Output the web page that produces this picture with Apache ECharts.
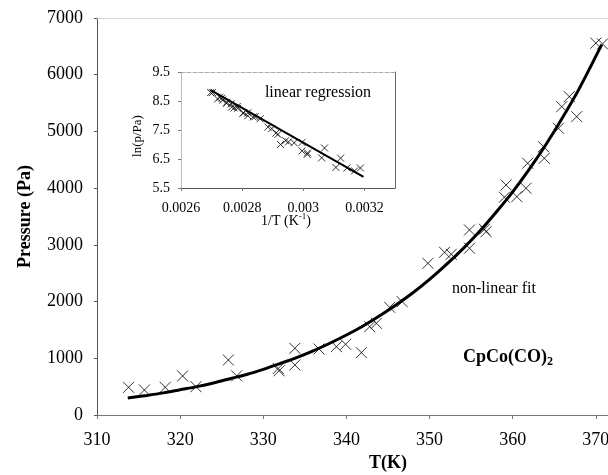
<!DOCTYPE html>
<html><head><meta charset="utf-8">
<script src="https://cdn.jsdelivr.net/npm/echarts@6/dist/echarts.min.js"></script>
<style>html,body{margin:0;padding:0;background:#fff}#c{width:608px;height:475px}</style>
</head><body><div id="c"></div>
<script>
// Main plot: measured vapour pressure (T in K, P in Pa)
const mainT = [313.8, 315.7, 318.2, 320.3, 321.9, 325.8, 326.8, 331.8, 331.9, 333.8, 333.8, 336.7, 338.8, 339.9, 341.8, 342.8, 343.6, 345.2, 346.7, 349.8, 351.8, 352.6, 354.8, 354.8, 356.6, 356.8, 359.2, 359.0, 360.5, 361.6, 361.8, 363.7, 363.8, 365.5, 365.9, 366.8, 367.7, 370.0, 370.8];
const mainP = [488, 441, 488, 688, 499, 970, 690, 820, 780, 1176, 882, 1164, 1205, 1247, 1099, 1557, 1617, 1899, 1999, 2675, 2869, 2834, 3263, 2940, 3275, 3233, 4056, 3840, 3850, 3998, 4439, 4732, 4527, 5056, 5437, 5614, 5261, 6556, 6543];
// Non-linear fit curve
const fitT = [313.7, 316, 318, 320, 322, 324, 326, 328, 330, 332, 334, 336, 338, 340, 342, 344, 346, 348, 350, 352, 354, 356, 358, 360, 362, 364, 366, 368, 370.7];
const fitP = [300, 345, 390, 445, 500, 565, 640, 715, 805, 905, 1010, 1130, 1265, 1410, 1570, 1750, 1945, 2155, 2390, 2650, 2930, 3235, 3575, 3935, 4335, 4770, 5245, 5755, 6530];
// Inset: ln(p/Pa) vs 1/T
const insetX = [0.0031867, 0.0031676, 0.0031427, 0.0031221, 0.0031066, 0.0030694, 0.0030600, 0.0030139, 0.0030130, 0.0029958, 0.0029958, 0.0029700, 0.0029516, 0.0029420, 0.0029257, 0.0029172, 0.0029104, 0.0028969, 0.0028844, 0.0028588, 0.0028425, 0.0028361, 0.0028185, 0.0028185, 0.0028043, 0.0028027, 0.0027840, 0.0027855, 0.0027739, 0.0027655, 0.0027640, 0.0027495, 0.0027488, 0.0027360, 0.0027330, 0.0027263, 0.0027196, 0.0027027, 0.0026969];
const insetY = [6.19, 6.09, 6.19, 6.53, 6.21, 6.88, 6.54, 6.71, 6.66, 7.07, 6.78, 7.06, 7.09, 7.13, 7.00, 7.35, 7.39, 7.55, 7.60, 7.89, 7.96, 7.95, 8.09, 7.99, 8.09, 8.08, 8.31, 8.25, 8.26, 8.29, 8.40, 8.46, 8.42, 8.53, 8.60, 8.63, 8.57, 8.79, 8.79];
const regX = [0.002696, 0.003197];
const regY = [8.88, 5.88];

const serif = 'Liberation Serif';
const X_SYMBOL = 'path://M0,0L10,10M10,0L0,10';
const zip = (a, b) => a.map((v, i) => [v, b[i]]);
const plain = v => String(v);
const chart = echarts.init(document.getElementById('c'), null, {renderer: 'canvas'});

const lbl = (size, extra) => Object.assign({color: '#000', fontFamily: serif, fontSize: size}, extra || {});

chart.setOption({
  animation: false,
  backgroundColor: '#fff',
  grid: [
    {left: 97, top: 18, width: 582, height: 397, containLabel: false, outerBoundsMode: 'none'},
    {left: 181, top: 72, width: 214, height: 116, containLabel: false, outerBoundsMode: 'none'}
  ],
  xAxis: [
    {gridIndex: 0, type: 'value', min: 310, max: 380, interval: 10,
     axisLine: {lineStyle: {color: '#777'}}, axisTick: {length: 4, lineStyle: {color: '#777'}},
     splitLine: {show: false}, axisLabel: lbl(18, {margin: 16, formatter: plain}),
     name: 'T(K)', nameLocation: 'middle', nameGap: 32,
     nameTextStyle: lbl(18, {fontWeight: 'bold'})},
    {gridIndex: 0, type: 'value', position: 'top', min: 310, max: 380,
     axisLine: {lineStyle: {color: '#ccc', type: 'dotted'}}, axisTick: {show: false},
     axisLabel: {show: false}, splitLine: {show: false}},
    {gridIndex: 1, type: 'value', min: 0.0026, max: 0.0033, interval: 0.0002,
     axisLine: {lineStyle: {color: '#555'}}, axisTick: {length: 3, lineStyle: {color: '#777'}},
     splitLine: {show: false}, axisLabel: lbl(14, {margin: 13, showMaxLabel: false})},
    {gridIndex: 1, type: 'value', position: 'top', min: 0.0026, max: 0.0033,
     axisLine: {lineStyle: {color: '#aaa', type: 'dashed'}}, axisTick: {show: false},
     axisLabel: {show: false}, splitLine: {show: false}}
  ],
  yAxis: [
    {gridIndex: 0, type: 'value', min: 0, max: 7000, interval: 1000,
     axisLine: {show: true, lineStyle: {color: '#555'}}, axisTick: {show: true, length: 3, lineStyle: {color: '#555'}},
     splitLine: {show: false}, axisLabel: lbl(18, {margin: 14, formatter: plain}),
     name: 'Pressure (Pa)', nameLocation: 'middle', nameGap: 63,
     nameTextStyle: lbl(18, {fontWeight: 'bold'})},
    {gridIndex: 1, type: 'value', min: 5.5, max: 9.5, interval: 1,
     axisLine: {show: true, lineStyle: {color: '#aaa', type: 'dotted'}}, axisTick: {show: true, length: 3, lineStyle: {color: '#777'}},
     splitLine: {show: false}, axisLabel: lbl(14, {margin: 11})},
    {gridIndex: 1, type: 'value', position: 'right', min: 5.5, max: 9.5,
     axisLine: {show: true, lineStyle: {color: '#666'}}, axisTick: {show: false},
     axisLabel: {show: false}, splitLine: {show: false}}
  ],
  graphic: [
    {type: 'text', x: 318, y: 93, style: {text: 'linear regression', fill: '#000', font: '16px "Liberation Serif"', textAlign: 'center', textVerticalAlign: 'middle', verticalAlign: 'middle'}},
    {type: 'text', x: 494, y: 289, style: {text: 'non-linear fit', fill: '#000', font: '16px "Liberation Serif"', textAlign: 'center', textVerticalAlign: 'middle', verticalAlign: 'middle'}},
    {type: 'text', x: 463, y: 357, style: {text: '{b|CpCo(CO)}{s|2}', textAlign: 'left', textVerticalAlign: 'middle', verticalAlign: 'middle',
      rich: {b: {fontFamily: serif, fontSize: 18, fontWeight: 'bold', fill: '#000', color: '#000', lineHeight: 22},
             s: {fontFamily: serif, fontSize: 12, fontWeight: 'bold', fill: '#000', color: '#000', verticalAlign: 'bottom', lineHeight: 16, padding: [8, 0, 0, 0]}}}},
    {type: 'text', x: 138, y: 136, rotation: Math.PI / 2, style: {text: 'ln(p/Pa)', fill: '#000', font: '13px "Liberation Serif"', textAlign: 'center', textVerticalAlign: 'middle', verticalAlign: 'middle'}},
    {type: 'text', x: 286, y: 221, style: {text: '{a|1/T (K}{s|-1}{a|)}', textAlign: 'center', textVerticalAlign: 'middle', verticalAlign: 'middle',
      rich: {a: {fontFamily: serif, fontSize: 14, fill: '#000', color: '#000', lineHeight: 18},
             s: {fontFamily: serif, fontSize: 9, fill: '#000', color: '#000', verticalAlign: 'top', lineHeight: 18, padding: [0, 0, 8, 0]}}}}
  ],
  series: [
    {type: 'scatter', xAxisIndex: 0, yAxisIndex: 0, data: zip(mainT, mainP), clip: false,
     symbol: X_SYMBOL, symbolSize: 11, itemStyle: {color: 'rgba(0,0,0,0)', borderColor: '#000', borderWidth: 1}},
    {type: 'line', xAxisIndex: 0, yAxisIndex: 0, data: zip(fitT, fitP), showSymbol: false, smooth: 0.3, clip: false,
     lineStyle: {color: '#000', width: 3}},
    {type: 'scatter', xAxisIndex: 2, yAxisIndex: 1, data: zip(insetX, insetY),
     symbol: X_SYMBOL, symbolSize: 7, itemStyle: {color: 'rgba(0,0,0,0)', borderColor: '#000', borderWidth: 1}},
    {type: 'line', xAxisIndex: 2, yAxisIndex: 1, data: zip(regX, regY), showSymbol: false,
     lineStyle: {color: '#000', width: 2}}
  ]
});
</script>
</body></html>
